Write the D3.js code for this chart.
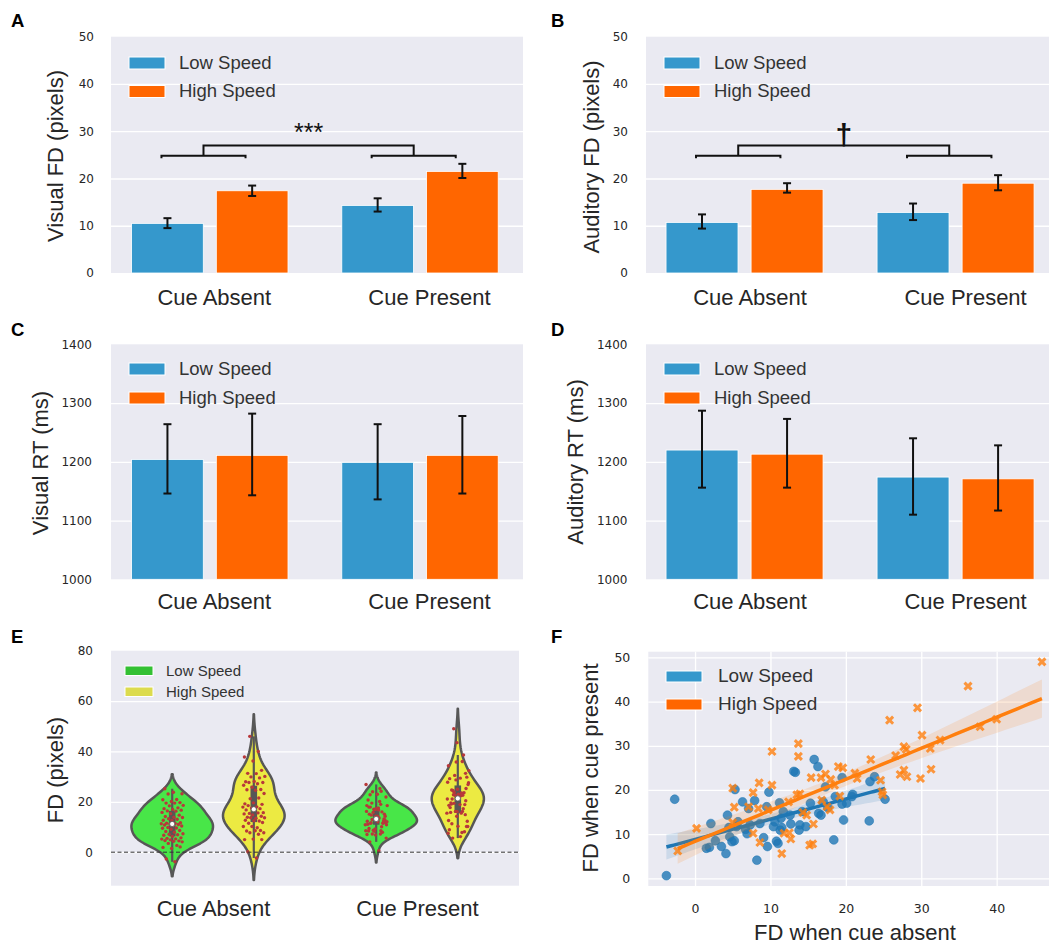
<!DOCTYPE html>
<html><head><meta charset="utf-8">
<script src="https://cdn.jsdelivr.net/npm/d3@7"></script>
<style>body{margin:0;background:#fff}svg{display:block}</style>
</head><body>
<script>
// ---------------- DATA ----------------
const categories = ["Cue Absent", "Cue Present"];
const speeds = ["Low Speed", "High Speed"];

// Panel A – Visual FD (pixels), [Cue Absent, Cue Present]
const visualFDLow = [10.5, 14.3];
const visualFDLowCI = [[9.5, 11.6], [13.0, 15.8]];
const visualFDHigh = [17.4, 21.5];
const visualFDHighCI = [[16.3, 18.5], [20.1, 23.1]];
// Panel B – Auditory FD (pixels)
const auditoryFDLow = [10.7, 12.8];
const auditoryFDLowCI = [[9.4, 12.4], [11.2, 14.7]];
const auditoryFDHigh = [17.7, 19.0];
const auditoryFDHighCI = [[17.0, 19.0], [17.5, 20.7]];
// Panel C – Visual RT (ms)
const visualRTLow = [1204, 1199];
const visualRTLowCI = [[1146, 1264], [1136, 1264]];
const visualRTHigh = [1211, 1211];
const visualRTHighCI = [[1143, 1282], [1146, 1278]];
// Panel D – Auditory RT (ms)
const auditoryRTLow = [1220, 1174];
const auditoryRTLowCI = [[1156, 1287], [1110, 1240]];
const auditoryRTHigh = [1213, 1171];
const auditoryRTHighCI = [[1156, 1273], [1117, 1228]];

// significance annotations (A, B)
const sigLabels = ["***", "\u2020"];
const bracketLevels = [24.8, 27.0];

// tick values
const fdTicks = [0, 10, 20, 30, 40, 50];
const rtTicks = [1000, 1100, 1200, 1300, 1400];
const violinTicks = [0, 20, 40, 60, 80];
const scatterXTicks = [0, 10, 20, 30, 40];
const scatterYTicks = [0, 10, 20, 30, 40, 50];

// Panels E & F – per-participant FD (pixels)
const lowSpeedAbsent = [-3.8,-2.7,2.1,1.5,1.9,2.7,3.5,4.1,4.3,4.6,4.5,4.9,5.2,5.3,5.5,5.7,6.3,6.7,6.9,7.1,7.3,7.9,8.2,8.6,9.1,9.5,9.6,9.8,10.4,10.6,10.8,11.0,11.2,11.3,11.4,11.5,11.7,12.6,12.7,13.1,13.3,13.8,13.9,14.2,14.7,15.3,15.8,16.3,16.4,16.7,17.0,17.3,17.6,18.4,18.6,19.5,19.5,19.7,20.1,20.8,20.9,23.1,23.2,23.8,25.2];
const lowSpeedPresent = [0.6,17.9,12.4,6.8,7.0,8.5,7.2,5.6,14.3,9.4,11.5,8.3,8.5,20.1,11.7,12.8,17.3,11.1,10.1,15.8,12.1,17.6,4.1,12.4,9.2,16.2,7.2,19.5,11.7,12.8,8.4,7.9,17.1,10.9,13.6,11.5,15.1,14.3,12.3,24.2,24.0,10.9,12.1,15.1,11.7,17.0,26.9,25.3,14.7,14.3,17.3,20.7,16.0,8.7,18.5,16.8,22.8,13.2,17.0,18.5,19.0,13.0,21.9,23.0,17.9];
const highSpeedAbsent = [-2.3,0.2,5.0,5.2,5.0,7.1,7.7,7.7,8.5,8.4,8.6,10.2,10.2,9.7,11.5,11.8,12.5,12.7,12.4,13.7,13.7,13.5,13.9,14.3,14.8,15.2,15.6,15.4,15.7,16.7,16.8,17.3,17.5,17.9,18.0,18.5,19.0,19.6,19.2,21.5,21.2,23.3,24.6,24.8,24.9,25.8,26.6,27.2,27.7,27.7,28.1,28.0,29.5,29.9,30.1,31.2,31.3,32.5,36.2,37.8,40.0,46.0];
const highSpeedPresent = [6.2,11.3,20.4,16.1,12.6,16.2,19.4,10.2,21.6,15.8,8.1,28.7,21.1,15.5,5.6,10.2,10.3,8.9,17.3,30.5,27.6,18.9,19.1,14.9,14.3,7.5,7.8,22.8,12.3,22.8,17.7,23.6,16.2,15.5,22.4,21.1,25.3,25.0,18.6,22.6,23.8,26.9,22.2,19.6,18.9,35.8,27.8,23.5,24.5,29.8,23.0,29.2,38.6,22.6,32.4,29.4,24.7,31.3,43.5,34.3,36.0,49.0];

// ---------------- STYLE ----------------
const W = 1049, H = 945;
const BG = "#eaeaf2";
const BLUE = "#3598cc", ORANGE = "#ff6600";
const SANS = "'Liberation Sans', Arial, sans-serif";
const TICKFONT = "'DejaVu Sans', sans-serif";
const TXT = "#262626";

const svg = d3.select("body").append("svg").attr("width", W).attr("height", H)
  .attr("font-family", SANS);
svg.append("rect").attr("width", W).attr("height", H).attr("fill", "#fff");

function styleTicks(sel, fs) {
  sel.select(".domain").remove();
  sel.selectAll("text").attr("font-family", TICKFONT).attr("font-size", fs || 12).attr("fill", TXT);
}
function gridY(g, y, ticks, left, width) {
  g.append("g").attr("transform", `translate(${left},0)`)
    .call(d3.axisLeft(y).tickValues(ticks).tickSize(-width).tickFormat(""))
    .call(a => a.select(".domain").remove())
    .call(a => a.selectAll("line").attr("stroke", "#fff").attr("stroke-width", 1.3));
}
function yLabel(g, text, cx, cy) {
  g.append("text").attr("transform", `translate(${cx},${cy}) rotate(-90)`)
    .attr("text-anchor", "middle").attr("dominant-baseline", "central")
    .attr("font-size", 22).attr("fill", TXT).text(text);
}
function letter(g, t, x, y) {
  g.append("text").attr("x", x).attr("y", y).attr("font-size", 18.5)
    .attr("font-weight", "bold").attr("fill", "#000").text(t);
}
function legend(g, items, sx, sw, sh, tx, fs) {
  items.forEach(it => {
    g.append("rect").attr("x", sx).attr("y", it.top).attr("width", sw).attr("height", sh)
      .attr("fill", it.color).attr("stroke", "#fff").attr("stroke-width", 1);
    g.append("text").attr("x", tx).attr("y", it.base).attr("font-size", fs)
      .attr("fill", "#333").text(it.label);
  });
}

// ---------------- BAR PANELS ----------------
function barPanel(p) {
  const g = svg.append("g");
  const x = d3.scaleLinear().domain(p.xDomain).range([p.left, p.right]);
  const y = d3.scaleLinear().domain(p.yDomain).range([p.bottom, p.top]);
  g.append("rect").attr("x", p.left).attr("y", p.top).attr("width", p.right - p.left)
    .attr("height", p.bottom - p.top).attr("fill", BG);
  gridY(g, y, p.ticks.slice(1, -1), p.left, p.right - p.left);
  g.append("g").attr("transform", `translate(${p.left},0)`)
    .call(d3.axisLeft(y).tickValues(p.ticks).tickFormat(d3.format("d")).tickSize(0).tickPadding(p.tickPad))
    .call(a => styleTicks(a));

  const series = [
    { vals: p.low, ci: p.lowCI, color: BLUE, off: [-0.372, -0.031] },
    { vals: p.high, ci: p.highCI, color: ORANGE, off: [0.031, 0.372] }
  ];
  series.forEach(s => {
    g.append("g").selectAll("rect").data(s.vals).join("rect")
      .attr("x", (d, i) => x(i + s.off[0]))
      .attr("width", (d, i) => x(i + s.off[1]) - x(i + s.off[0]))
      .attr("y", d => y(d)).attr("height", d => y(p.yDomain[0]) - y(d))
      .attr("fill", s.color).attr("stroke", "#fff").attr("stroke-width", 0.8);
  });
  series.forEach(s => {
    const eg = g.append("g").attr("stroke", "#111").attr("stroke-width", 2);
    s.ci.forEach((c, i) => {
      const cx = x(i + (s.off[0] + s.off[1]) / 2);
      eg.append("line").attr("x1", cx).attr("x2", cx).attr("y1", y(c[0])).attr("y2", y(c[1]));
      eg.append("line").attr("x1", cx - 4).attr("x2", cx + 4).attr("y1", y(c[0])).attr("y2", y(c[0]));
      eg.append("line").attr("x1", cx - 4).attr("x2", cx + 4).attr("y1", y(c[1])).attr("y2", y(c[1]));
    });
  });
  // significance bracket
  if (p.sig) {
    const bg = g.append("g").attr("stroke", "#111").attr("stroke-width", 2).attr("fill", "none");
    const lo = bracketLevels[0], hi = bracketLevels[1];
    [0, 1].forEach(c => {
      const a = c - 0.23, b = c + 0.17;
      bg.append("path").attr("d",
        `M${x(a)},${y(lo - 0.5)}L${x(a)},${y(lo)}L${x(b)},${y(lo)}L${x(b)},${y(lo - 0.5)}`);
    });
    bg.append("path").attr("d",
      `M${x(-0.03)},${y(lo)}L${x(-0.03)},${y(hi)}L${x(0.97)},${y(hi)}L${x(0.97)},${y(lo)}`);
    g.append("text").attr("x", x(0.47) + p.sig.dx).attr("y", y(p.sig.level))
      .attr("text-anchor", "middle").attr("font-size", p.sig.fs).attr("font-weight", p.sig.fw)
      .attr("fill", "#111").text(p.sig.text);
  }
  // category labels
  g.append("g").attr("transform", `translate(0,${p.bottom})`)
    .call(d3.axisBottom(x).tickValues([0, 1]).tickFormat(i => categories[i]).tickSize(0))
    .call(a => a.select(".domain").remove())
    .call(a => a.selectAll("text").attr("dy", null).attr("y", p.catY)
      .attr("dx", d => p.catShift[d])
      .attr("font-family", SANS).attr("font-size", 22).attr("fill", TXT));
  yLabel(g, p.ylabel, p.ylx, p.yly);
  letter(g, p.letter, p.lx, p.ly);
  legend(g, [
    { label: speeds[0], color: BLUE, top: p.legTop[0], base: p.legBase[0] },
    { label: speeds[1], color: ORANGE, top: p.legTop[1], base: p.legBase[1] }
  ], p.legX, 36, 12, p.legX + 50, 18.5);
}

barPanel({ left: 111, right: 523, top: 36.7, bottom: 273, xDomain: [-0.47, 1.49], yDomain: [0, 50],
  ticks: fdTicks, tickPad: 17, low: visualFDLow, lowCI: visualFDLowCI, high: visualFDHigh, highCI: visualFDHighCI,
  ylabel: "Visual FD (pixels)", ylx: 55, yly: 156, letter: "A", lx: 11, ly: 27,
  catY: 32, catShift: [4, 9], legX: 129, legTop: [57, 85.5], legBase: [69, 97],
  sig: { text: sigLabels[0], level: 28.0, fs: 25, fw: "normal", dx: 0 } });
barPanel({ left: 646, right: 1059.6, top: 36.7, bottom: 273, xDomain: [-0.467, 1.493], yDomain: [0, 50],
  ticks: fdTicks, tickPad: 18, low: auditoryFDLow, lowCI: auditoryFDLowCI, high: auditoryFDHigh, highCI: auditoryFDHighCI,
  ylabel: "Auditory FD (pixels)", ylx: 591, yly: 157, letter: "B", lx: 551, ly: 27,
  catY: 32, catShift: [5, 9.5], legX: 664, legTop: [57, 85.5], legBase: [69, 97],
  sig: { text: sigLabels[1], level: 27.1, fs: 30, fw: "bold", dx: 0 } });
barPanel({ left: 111, right: 523, top: 344.3, bottom: 579.3, xDomain: [-0.47, 1.49], yDomain: [1000, 1400],
  ticks: rtTicks, tickPad: 19, low: visualRTLow, lowCI: visualRTLowCI, high: visualRTHigh, highCI: visualRTHighCI,
  ylabel: "Visual RT (ms)", ylx: 40, yly: 463, letter: "C", lx: 11, ly: 336,
  catY: 30, catShift: [4, 9], legX: 129, legTop: [363, 392], legBase: [375, 404] });
barPanel({ left: 646, right: 1059.6, top: 344.3, bottom: 579.3, xDomain: [-0.467, 1.493], yDomain: [1000, 1400],
  ticks: rtTicks, tickPad: 18.5, low: auditoryRTLow, lowCI: auditoryRTLowCI, high: auditoryRTHigh, highCI: auditoryRTHighCI,
  ylabel: "Auditory RT (ms)", ylx: 575, yly: 462, letter: "D", lx: 551, ly: 336,
  catY: 30, catShift: [5, 9.5], legX: 664, legTop: [363, 392], legBase: [375, 404] });

// ---------------- PANEL E: violins ----------------
(function () {
  const g = svg.append("g");
  const left = 111, right = 519, top = 650.7, bottom = 885.7;
  const x = d3.scaleLinear().domain([-0.5, 1.5]).range([left, right]);
  const y = d3.scaleLinear().domain([-13.3, 80]).range([bottom, top]);
  g.append("rect").attr("x", left).attr("y", top).attr("width", right - left).attr("height", bottom - top).attr("fill", BG);
  gridY(g, y, [0, 20, 40, 60], left, right - left);
  g.append("g").attr("transform", `translate(${left},0)`)
    .call(d3.axisLeft(y).tickValues(violinTicks).tickSize(0).tickPadding(18)).call(a => styleTicks(a));

  const VFILL = ["#48e648", "#ecea42"];
  const LEGC = ["#33c033", "#dcdb4e"];
  const GRAY = "#575757";
  const groups = [[lowSpeedAbsent, highSpeedAbsent], [lowSpeedPresent, highSpeedPresent]];

  function kde(data) {
    const n = data.length, sd = d3.deviation(data);
    const bw = sd * Math.pow(n, -0.2);
    const lo = d3.min(data) - 2 * bw, hi = d3.max(data) + 2 * bw;
    return d3.range(100).map(i => {
      const v = lo + (hi - lo) * i / 99;
      const dens = d3.mean(data, d => Math.exp(-0.5 * ((v - d) / bw) ** 2)) / (bw * Math.sqrt(2 * Math.PI));
      return [v, dens];
    });
  }
  groups.forEach((pair, c) => {
    const ks = pair.map(kde);
    const mx = d3.max(ks.flat(), d => d[1]);
    pair.forEach((data, h) => {
      const center = c + (h === 0 ? -0.2 : 0.2);
      const area = d3.area().y(d => y(d[0]))
        .x0(d => x(center - d[1] / mx * 0.2)).x1(d => x(center + d[1] / mx * 0.2));
      g.append("path").attr("d", area(ks[h])).attr("fill", VFILL[h])
        .attr("stroke", GRAY).attr("stroke-width", 2.5).attr("stroke-linejoin", "round");
      const s = data.slice().sort(d3.ascending);
      const q1 = d3.quantile(s, 0.25), q2 = d3.quantile(s, 0.5), q3 = d3.quantile(s, 0.75);
      const wl = 1.5 * (q3 - q1);
      const h1 = d3.min(s.filter(v => v >= q1 - wl)), h2 = d3.max(s.filter(v => v <= q3 + wl));
      g.append("line").attr("x1", x(center)).attr("x2", x(center)).attr("y1", y(h1)).attr("y2", y(h2))
        .attr("stroke", GRAY).attr("stroke-width", 2.2);
      g.append("line").attr("x1", x(center)).attr("x2", x(center)).attr("y1", y(q1)).attr("y2", y(q3))
        .attr("stroke", GRAY).attr("stroke-width", 6.6);
      // strip points (deterministic golden-ratio jitter)
      g.append("g").selectAll("circle").data(data).join("circle")
        .attr("cx", (d, i) => x(center + ((((i + 1) * 0.6180339887) % 1) - 0.5) * 0.11))
        .attr("cy", d => y(d)).attr("r", 1.7).attr("fill", "#b8383a");
      g.append("circle").attr("cx", x(center)).attr("cy", y(q2)).attr("r", 2.6)
        .attr("fill", "#fff").attr("stroke", GRAY).attr("stroke-width", 0.8);
    });
  });
  g.append("line").attr("x1", left).attr("x2", right).attr("y1", y(0)).attr("y2", y(0))
    .attr("stroke", "#333").attr("stroke-width", 1).attr("stroke-dasharray", "4,2.5");

  g.append("g").attr("transform", `translate(0,${bottom})`)
    .call(d3.axisBottom(x).tickValues([0, 1]).tickFormat(i => categories[i]).tickSize(0))
    .call(a => a.select(".domain").remove())
    .call(a => a.selectAll("text").attr("dy", null).attr("y", 30)
      .attr("font-family", SANS).attr("font-size", 22).attr("fill", TXT));
  yLabel(g, "FD (pixels)", 55, 770);
  letter(g, "E", 11, 643);
  legend(g, [
    { label: speeds[0], color: LEGC[0], top: 666, base: 675.5 },
    { label: speeds[1], color: LEGC[1], top: 687, base: 697 }
  ], 125, 28, 9.5, 166, 15);
})();

// ---------------- PANEL F: scatter + regression ----------------
(function () {
  const g = svg.append("g");
  const left = 648.3, right = 1050.2, top = 651.7, bottom = 886;
  const x = d3.scaleLinear().domain([-6.2, 47.1]).range([left, right]);
  const y = d3.scaleLinear().domain([-1.74, 51.3]).range([bottom, top]);
  g.append("rect").attr("x", left).attr("y", top).attr("width", right - left).attr("height", bottom - top).attr("fill", BG);
  gridY(g, y, scatterYTicks, left, right - left);
  g.append("g").attr("transform", `translate(0,${bottom})`)
    .call(d3.axisBottom(x).tickValues(scatterXTicks).tickSize(-(bottom - top)).tickFormat(""))
    .call(a => a.select(".domain").remove())
    .call(a => a.selectAll("line").attr("stroke", "#fff").attr("stroke-width", 1.3));
  g.append("g").attr("transform", `translate(${left},0)`)
    .call(d3.axisLeft(y).tickValues(scatterYTicks).tickSize(0).tickPadding(18)).call(a => styleTicks(a, 12.5));
  g.append("g").attr("transform", `translate(0,${bottom})`)
    .call(d3.axisBottom(x).tickValues(scatterXTicks).tickSize(0).tickPadding(18)).call(a => styleTicks(a, 12.5));

  const sets = [
    { xs: lowSpeedAbsent, ys: lowSpeedPresent, color: "#1f77b4", marker: "o" },
    { xs: highSpeedAbsent, ys: highSpeedPresent, color: "#ff7f0e", marker: "x" }
  ];
  g.append("clipPath").attr("id", "fclip").append("rect")
    .attr("x", left).attr("y", top).attr("width", right - left).attr("height", bottom - top);
  const pg = g.append("g").attr("clip-path", "url(#fclip)");
  sets.forEach(s => {
    const pts = s.xs.map((v, i) => [v, s.ys[i]]);
    if (s.marker === "o") {
      pg.append("g").selectAll("circle").data(pts).join("circle")
        .attr("cx", d => x(d[0])).attr("cy", d => y(d[1])).attr("r", 4.4)
        .attr("fill", s.color).attr("fill-opacity", 0.8).attr("stroke", s.color).attr("stroke-opacity", 0.9).attr("stroke-width", 0.6);
    } else {
      const sym = d3.symbol(d3.symbolX, 34);
      pg.append("g").selectAll("path").data(pts).join("path")
        .attr("transform", d => `translate(${x(d[0])},${y(d[1])})`).attr("d", sym)
        .attr("fill", "none").attr("stroke", s.color).attr("stroke-opacity", 0.8).attr("stroke-width", 3);
    }
    // least squares fit + 95% CI of mean prediction
    const n = pts.length, mx = d3.mean(s.xs), my = d3.mean(s.ys);
    const sxx = d3.sum(s.xs, v => (v - mx) ** 2);
    const sxy = d3.sum(pts, d => (d[0] - mx) * (d[1] - my));
    const b = sxy / sxx, a0 = my - b * mx;
    const se = Math.sqrt(d3.sum(pts, d => (d[1] - a0 - b * d[0]) ** 2) / (n - 2));
    const [x0, x1] = d3.extent(s.xs);
    const line = d3.range(60).map(i => {
      const xv = x0 + (x1 - x0) * i / 59, yv = a0 + b * xv;
      const hw = 2.0 * se * Math.sqrt(1 / n + (xv - mx) ** 2 / sxx);
      return [xv, yv, yv - hw, yv + hw];
    });
    pg.append("path").attr("d", d3.area().x(d => x(d[0])).y0(d => y(d[2])).y1(d => y(d[3]))(line))
      .attr("fill", s.color).attr("fill-opacity", 0.15);
    pg.append("path").attr("d", d3.line().x(d => x(d[0])).y(d => y(d[1]))(line))
      .attr("fill", "none").attr("stroke", s.color).attr("stroke-width", 3.5);
  });
  yLabel(g, "FD when cue present", 590, 768);
  g.append("text").attr("x", 855).attr("y", 940).attr("text-anchor", "middle")
    .attr("font-size", 22).attr("fill", TXT).text("FD when cue absent");
  letter(g, "F", 551, 643);
  legend(g, [
    { label: speeds[0], color: BLUE, top: 671, base: 682 },
    { label: speeds[1], color: ORANGE, top: 699, base: 710 }
  ], 666, 36, 11, 718, 19);
})();
</script></body></html>
